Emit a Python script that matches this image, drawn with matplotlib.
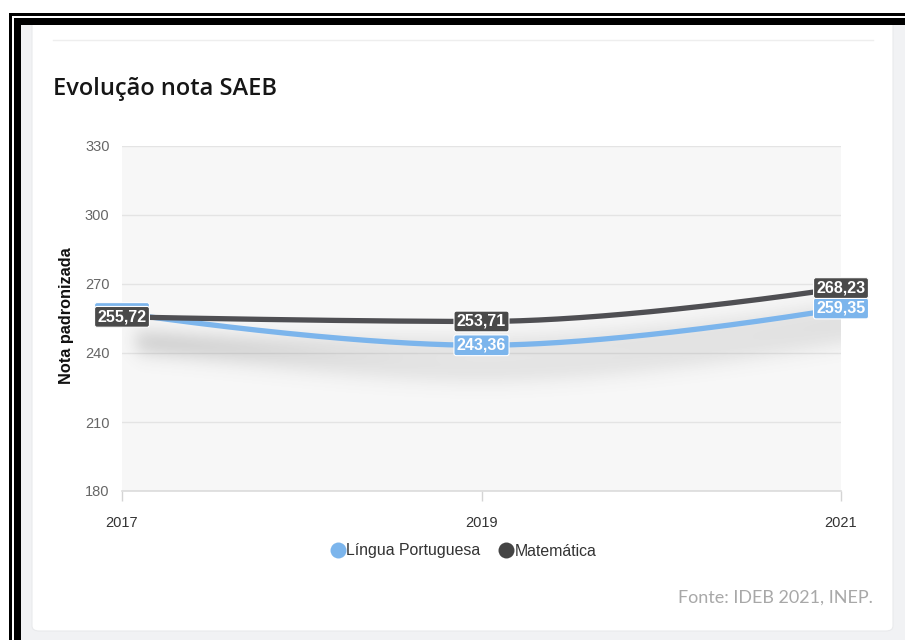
import numpy as np
import matplotlib
matplotlib.use("Agg")
import matplotlib.pyplot as plt
from matplotlib.patches import Rectangle, FancyBboxPatch
from matplotlib.lines import Line2D

# SAEB scores per year
years = [2017, 2019, 2021]
portugues = [257.4, 243.36, 259.35]
matematica = [255.72, 253.71, 268.23]
series_names = ["Língua Portuguesa", "Matemática"]
y_ticks = [180, 210, 240, 270, 300, 330]

BLUE = "#7cb5ec"
DARK = "#4f4f53"

W, H = 905, 640
fig = plt.figure(figsize=(W / 100, H / 100), dpi=100)
fig.patch.set_facecolor("white")


def fx(px):
    return px / W


def fy(py):
    return 1 - py / H


def box(x0, y0, x1, y1, color, z):
    # rectangle given in pixel corners (top-left origin)
    fig.add_artist(Rectangle((fx(x0), fy(y1)), fx(x1) - fx(x0), fy(y0) - fy(y1),
                             transform=fig.transFigure, facecolor=color,
                             edgecolor="none", zorder=z))


# page background and card
box(20, 24, 905, 640, "#f1f2f4", -3)
fig.add_artist(FancyBboxPatch((fx(32), fy(631)), fx(893) - fx(32), fy(-20) - fy(631),
                              boxstyle="round,pad=0,rounding_size=0.008",
                              transform=fig.transFigure, facecolor="white",
                              edgecolor="#e9eaec", linewidth=0.8, zorder=-2))
box(0, 0, 905, 18, "white", 4)
# double black frame
box(9, 13, 12, 640, "black", 5)
box(9, 13, 905, 15.5, "black", 5)
box(14, 18, 20.5, 640, "black", 5)
box(14, 18, 905, 24.5, "black", 5)
# thin separator at the top of the card
fig.add_artist(Line2D([fx(53), fx(873)], [fy(40), fy(40)], transform=fig.transFigure,
                      color="#eeeeee", linewidth=1, zorder=-1))

fig.text(fx(53), fy(89), "Evolução nota SAEB", fontsize=17, fontfamily="Open Sans",
         fontweight="semibold", color="#161616", va="center", ha="left")

ax = fig.add_axes([fx(122), fy(491), fx(841) - fx(122), fy(146) - fy(491)])
ax.set_facecolor("#f7f7f7")


def spline(xs, ys, n=200):
    # cubic bezier smoothing, control points built from neighbouring values
    xs = np.asarray(xs, float)
    ys = np.asarray(ys, float)
    k = len(xs)
    lcx, lcy, rcx, rcy = xs.copy(), ys.copy(), xs.copy(), ys.copy()
    for i in range(1, k - 1):
        lx = (1.5 * xs[i] + xs[i - 1]) / 2.5
        ly = (1.5 * ys[i] + ys[i - 1]) / 2.5
        rx = (1.5 * xs[i] + xs[i + 1]) / 2.5
        ry = (1.5 * ys[i] + ys[i + 1]) / 2.5
        corr = (ry - ly) * (rx - xs[i]) / (rx - lx) + ys[i] - ry
        ly += corr
        ry += corr
        if (ys[i] - ys[i - 1]) * (ys[i + 1] - ys[i]) < 0:
            ly = ry = ys[i]
        lcx[i], lcy[i], rcx[i], rcy[i] = lx, ly, rx, ry
    px, py = [], []
    t = np.linspace(0, 1, n)[:, None]
    for i in range(k - 1):
        p = np.array([[xs[i], ys[i]], [rcx[i], rcy[i]],
                      [lcx[i + 1], lcy[i + 1]], [xs[i + 1], ys[i + 1]]])
        b = ((1 - t) ** 3 * p[0] + 3 * (1 - t) ** 2 * t * p[1]
             + 3 * (1 - t) * t ** 2 * p[2] + t ** 3 * p[3])
        px.append(b[:, 0])
        py.append(b[:, 1])
    return np.concatenate(px), np.concatenate(py)


curves = [spline(years, portugues), spline(years, matematica)]

# soft drop shadow under the lines
pw, ph = 719, 345
gx = np.linspace(2017, 2021, pw)
rows = np.arange(ph)[:, None]
inten = np.zeros((ph, pw))
for cx, cy in curves:
    yc = np.interp(gx, cx, cy)
    yc_px = (330 - yc) * ph / 150 + 25
    inten += np.exp(-0.5 * ((rows - yc_px[None, :]) / 11.0) ** 2)
cols = np.arange(pw)
inten *= 1 / (1 + np.exp(-(cols - 14) / 5.0))[None, :]
rgba = np.zeros((ph, pw, 4))
rgba[..., :3] = 0.35
rgba[..., 3] = np.clip(inten * 0.105, 0, 0.24)
ax.imshow(rgba, extent=[2017, 2021, 180, 330], aspect="auto", zorder=1,
          interpolation="bilinear")
ax.set_xlim(2017, 2021)
ax.set_ylim(180, 330)

ax.plot(*curves[0], color=BLUE, linewidth=3.8, solid_capstyle="butt", zorder=3)
ax.plot(*curves[1], color=DARK, linewidth=3.8, solid_capstyle="butt", zorder=4)

for vals, col, z in [(portugues, BLUE, 6), (matematica, "#4a4a4a", 7)]:
    for x, v in zip(years, vals):
        ax.text(x, v, f"{v:.2f}".replace(".", ","), ha="center", va="center",
                fontsize=11.5, fontweight="bold", fontfamily="Liberation Sans",
                color="white", zorder=z, clip_on=False,
                bbox=dict(boxstyle="round,pad=0.18,rounding_size=0.15",
                          facecolor=col, edgecolor="#ffffff", linewidth=0.8))

ax.set_yticks(y_ticks)
ax.set_xticks(years)
ax.grid(axis="y", color="#e4e4e4", linewidth=1)
ax.set_axisbelow(True)
for s in ["top", "right", "left"]:
    ax.spines[s].set_visible(False)
ax.spines["bottom"].set_color("#dcdcdc")
ax.spines["bottom"].set_linewidth(1.2)
ax.tick_params(axis="y", length=0, pad=9, labelsize=10.5, labelcolor="#666666")
ax.tick_params(axis="x", length=7, width=1, color="#d4d4d4", pad=11,
               labelsize=10.5, labelcolor="#333333")
for lbl in ax.get_xticklabels() + ax.get_yticklabels():
    lbl.set_fontfamily("Liberation Sans")

fig.text(fx(67), fy(316), "Nota padronizada", rotation=90, ha="center", va="center",
         fontsize=11.7, fontweight="bold", fontfamily="Liberation Sans", color="#111111")

handles = [Line2D([], [], marker="o", linestyle="none", markersize=11.5,
                  markerfacecolor=c, markeredgecolor="none") for c in (BLUE, "#444444")]
fig.legend(handles, series_names, loc="center", bbox_to_anchor=(fx(464), fy(551)),
           ncol=2, frameon=False, handlelength=0.8, handletextpad=0.15,
           columnspacing=1.2, prop={"family": "Liberation Sans", "size": 11.4},
           labelcolor="#333333")

fig.text(fx(873), fy(598), "Fonte: IDEB 2021, INEP.", ha="right", va="center",
         fontsize=13, fontfamily="Lato", color="#a8a8a8")

fig.savefig("out.png", dpi=100)
